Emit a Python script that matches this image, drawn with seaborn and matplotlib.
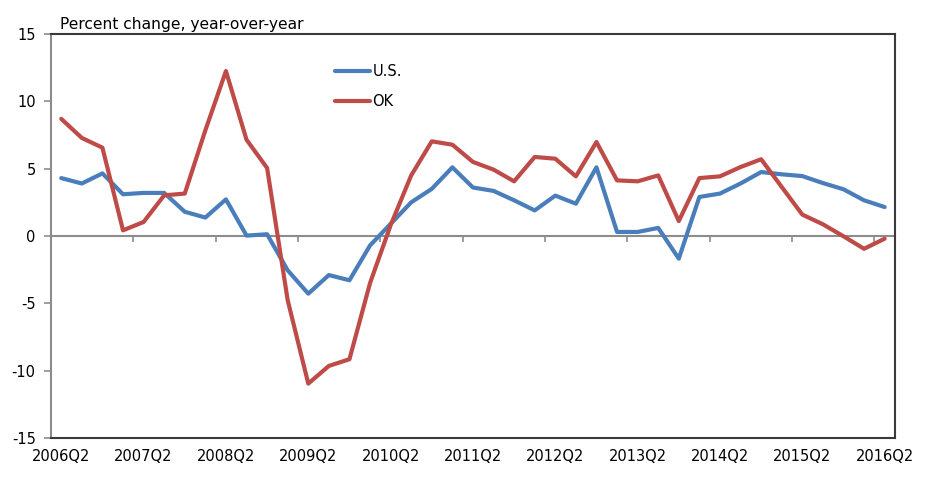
import matplotlib
matplotlib.use("Agg")
import matplotlib.pyplot as plt
import seaborn as sns
import pandas as pd

# quarterly data, 2006Q2 .. 2016Q2
quarters = [f"{y}Q{q}" for y in range(2006, 2017) for q in range(1, 5)][1:42]
us_values = [4.3, 3.9, 4.65, 3.1, 3.2, 3.2, 1.8, 1.37, 2.72, 0.03,
             0.13, -2.55, -4.28, -2.9, -3.29, -0.7, 0.9, 2.5, 3.5, 5.1,
             3.6, 3.35, 2.65, 1.9, 3.0, 2.4, 5.1, 0.3, 0.3, 0.6,
             -1.68, 2.9, 3.15, 3.9, 4.75, 4.58, 4.45, 3.93, 3.47, 2.65,
             2.15]
ok_values = [8.7, 7.28, 6.56, 0.42, 1.04, 3.02, 3.15, 7.85, 12.25, 7.15,
             5.05, -4.77, -10.96, -9.65, -9.15, -3.5, 0.8, 4.5, 7.03, 6.78,
             5.5, 4.93, 4.06, 5.87, 5.74, 4.43, 6.98, 4.13, 4.06, 4.5,
             1.11, 4.3, 4.43, 5.12, 5.7, 3.64, 1.59, 0.87, -0.02, -0.95,
             -0.2]
series_names = ["U.S.", "OK"]
tick_labels = quarters[::4]
y_ticks = [-15, -10, -5, 0, 5, 10, 15]

colors = {"U.S.": "#4a7ebb", "OK": "#be4b48"}

df = pd.DataFrame({"quarter": quarters, "U.S.": us_values, "OK": ok_values})
df["pos"] = range(len(df))
long_df = df.melt(id_vars=["quarter", "pos"], value_vars=series_names,
                  var_name="series", value_name="pct")

sns.set_style("white")
plt.rcParams['font.family'] = ['DejaVu Sans']
plt.rcParams['text.color'] = 'black'

fig = plt.figure(figsize=(9.25, 4.93), dpi=100)
ax = fig.add_axes([0.0551, 0.1116, 0.9124, 0.8194])

sns.lineplot(data=long_df, x="pos", y="pct", hue="series", hue_order=series_names,
             palette=colors, linewidth=3, ax=ax)

ax.set_xlim(-0.5, len(quarters) - 0.5)
ax.set_ylim(-15, 15)
ax.set_xlabel("")
ax.set_ylabel("")

# category labels at bottom, no tick marks there
ax.set_xticks(range(0, len(quarters), 4))
ax.set_xticklabels(tick_labels, fontsize=10.5)
ax.tick_params(axis="x", length=0, pad=8, labelcolor="black")

ax.set_yticks(y_ticks)
ax.set_yticklabels([str(v) for v in y_ticks], fontsize=10.5)
ax.tick_params(axis="y", direction="out", length=5, width=1.2, color="#8c8c8c", pad=6,
               left=True, labelcolor="black")

for side in ["top", "right", "bottom"]:
    ax.spines[side].set_color("#3a3a3a")
    ax.spines[side].set_linewidth(1.5)
ax.spines["left"].set_color("#8c8c8c")
ax.spines["left"].set_linewidth(1.5)

# horizontal zero axis with tick marks between category groups
zero_ax = ax.secondary_xaxis(0.5)
zero_ax.set_xticks([p - 0.5 for p in range(4, len(quarters), 4)])
zero_ax.set_xticklabels([])
zero_ax.tick_params(direction="in", length=4, width=1.2, color="#8c8c8c")
for sp in zero_ax.spines.values():
    sp.set_color("#8c8c8c")
    sp.set_linewidth(1.5)

ax.text(0.011, 1.005, "Percent change, year-over-year", transform=ax.transAxes,
        fontsize=11.2, ha="left", va="bottom", color="black")

leg = ax.legend(loc="upper left", bbox_to_anchor=(0.336, 0.925), frameon=False,
                fontsize=10.5, handlelength=2.4, handletextpad=0.2,
                labelspacing=1.0, borderpad=0, borderaxespad=0)

fig.savefig("out.png", dpi=100)
